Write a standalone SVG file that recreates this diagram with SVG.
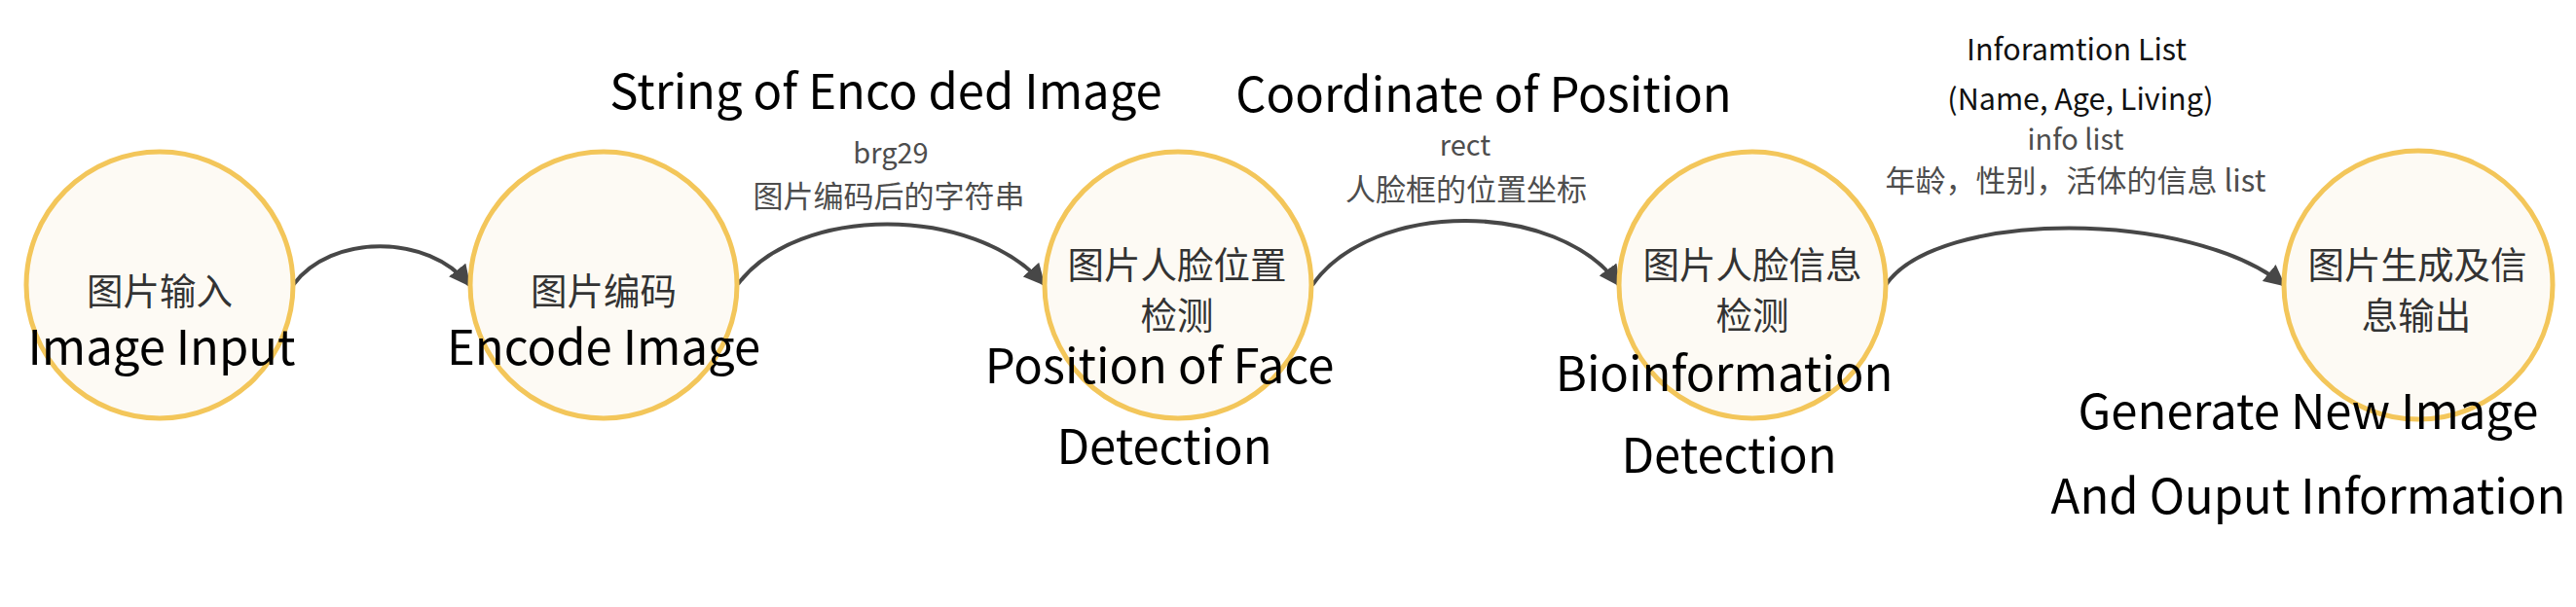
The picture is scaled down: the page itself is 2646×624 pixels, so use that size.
<svg xmlns="http://www.w3.org/2000/svg" width="2646" height="624" viewBox="0 0 2646 624">
<defs>
<style>
.node{fill:#FDFAF4;stroke:#F3C65A;stroke-width:5}
.cn{font-family:"Noto Sans CJK SC","Noto Sans",sans-serif;font-size:37.5px;fill:#333333;text-anchor:middle}
.en{font-family:"Noto Sans CJK SC","Noto Sans",sans-serif;font-size:49px;fill:#000000;text-anchor:middle}
.title{font-family:"Noto Sans CJK SC","Noto Sans",sans-serif;font-size:49px;fill:#000000;text-anchor:middle}
.lbl{font-family:"Noto Sans CJK SC","Noto Sans",sans-serif;font-size:29px;fill:#4d4d4d;text-anchor:middle}
.lblc{font-family:"Noto Sans CJK SC","Noto Sans",sans-serif;font-size:31px;fill:#4d4d4d;text-anchor:middle}
.lblk{font-family:"Noto Sans CJK SC","Noto Sans",sans-serif;font-size:30.5px;fill:#111111;text-anchor:middle}
.edge{fill:none;stroke:#474747;stroke-width:4}
</style>
<marker id="arrow" viewBox="0 0 10 10" refX="9" refY="5" markerWidth="5.5" markerHeight="5.5" markerUnits="strokeWidth" orient="auto">
<path d="M0,0 L10,5 L0,10 z" fill="#474747"/>
</marker>
</defs>
<rect width="2646" height="624" fill="#ffffff"/>
<g id="connectors">
<path class="edge" d="M301,293 C340,240 440,240 482,293" marker-end="url(#arrow)"/>
<path class="edge" d="M758,292 C820,210 1000,210 1072,292" marker-end="url(#arrow)"/>
<path class="edge" d="M1348,293 C1410,205 1600,205 1663,293" marker-end="url(#arrow)"/>
<path class="edge" d="M1937,293 C1990,215 2250,215 2346,293" marker-end="url(#arrow)"/>
<text class="title" x="910" y="112">String of Enco ded Image</text>
<text class="lbl" x="915" y="168">brg29</text>
<text class="lblc" x="913" y="213">图片编码后的字符串</text>
<text class="title" x="1524" y="115">Coordinate of Position</text>
<text class="lbl" x="1505" y="160">rect</text>
<text class="lblc" x="1506" y="206">人脸框的位置坐标</text>
<text class="lblk" x="2133" y="62">Inforamtion List</text>
<text class="lblk" x="2137" y="113">(Name, Age, Living)</text>
<text class="lbl" x="2132" y="154">info list</text>
<text class="lblc" x="2132" y="197">年龄，性别，活体的信息 list</text>
</g>
<g id="node1">
<circle class="node" cx="164" cy="293" r="137"/>
<text class="cn" x="164" y="313">图片输入</text>
<text class="en" x="166" y="375">Image Input</text>
</g>
<g id="node2">
<circle class="node" cx="620" cy="293" r="137"/>
<text class="cn" x="620" y="313">图片编码</text>
<text class="en" x="620" y="375">Encode Image</text>
</g>
<g id="node3">
<circle class="node" cx="1210" cy="293" r="137"/>
<text class="cn" x="1209" y="286">图片人脸位置</text>
<text class="cn" x="1209" y="338">检测</text>
<text class="en" x="1191" y="394">Position of Face</text>
<text class="en" x="1196" y="477">Detection</text>
</g>
<g id="node4">
<circle class="node" cx="1800" cy="293" r="137"/>
<text class="cn" x="1800" y="286">图片人脸信息</text>
<text class="cn" x="1800" y="338">检测</text>
<text class="en" x="1771" y="402">Bioinformation</text>
<text class="en" x="1776" y="486">Detection</text>
</g>
<g id="node5">
<circle class="node" cx="2484" cy="293" r="138"/>
<text class="cn" x="2483" y="286">图片生成及信</text>
<text class="cn" x="2482" y="338">息输出</text>
<text class="en" x="2371" y="441">Generate New Image</text>
<text class="en" x="2371" y="528">And Ouput Information</text>
</g>
</svg>
